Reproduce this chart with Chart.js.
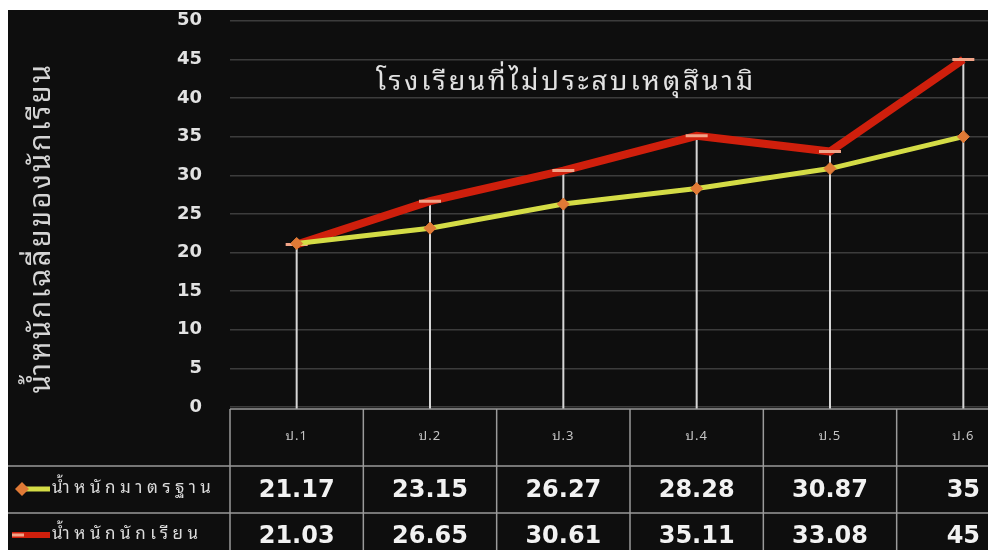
<!DOCTYPE html>
<html><head><meta charset="utf-8">
<script src="https://cdn.jsdelivr.net/npm/chart.js@4"></script>
<style>
html,body{margin:0;padding:0;background:#fff;overflow:hidden;width:988px;height:550px;}
#wrap{position:absolute;left:8px;top:10px;width:1030px;height:540px;background:#0e0e0e;}
</style></head><body>
<div id="wrap"><canvas id="c"></canvas></div>
<script>
const categories = ['ป.1','ป.2','ป.3','ป.4','ป.5','ป.6'];
const standardWeight = [21.17, 23.15, 26.27, 28.28, 30.87, 35];
const studentWeight = [21.03, 26.65, 30.61, 35.11, 33.08, 45];
const seriesNames = ['น้ำหนักมาตรฐาน', 'น้ำหนักนักเรียน'];
const chartTitle = 'โรงเรียนที่ไม่ประสบเหตุสึนามิ';
const yTitle = 'น้ำหนักเฉลี่ยของนักเรียน';
const yMin = 0, yMax = 50, yStep = 5;

const THAI = "'Noto Sans Thai Looped','Noto Serif Thai','Noto Sans Thai','Noto Sans','DejaVu Sans',sans-serif";
const NUM = "'DejaVu Sans','Liberation Sans',sans-serif";
const STD_COLOR = '#d4dc46', STD_MARK = '#e07a36';
const STU_COLOR = '#cf1f0c', STU_MARK = '#f2a488';

const extrasPlugin = {
  id: 'extras',
  beforeDatasetsDraw(chart) {
    const {ctx, chartArea: a, scales: {x, y}} = chart;
    ctx.save();
    ctx.strokeStyle = '#d6d6d6'; ctx.lineWidth = 2;
    categories.forEach((c, i) => {
      const px = x.getPixelForValue(i);
      const top = y.getPixelForValue(Math.max(standardWeight[i], studentWeight[i]));
      ctx.beginPath(); ctx.moveTo(px, top); ctx.lineTo(px, a.bottom + 2); ctx.stroke();
    });
    // in-plot title
    ctx.fillStyle = '#e2e2e2';
    ctx.font = '27px ' + THAI;
    ctx.letterSpacing = '3px';
    ctx.textAlign = 'center'; ctx.textBaseline = 'middle';
    ctx.fillText(chartTitle, a.left + (a.right - a.left) * 0.42, y.getPixelForValue(42));
    // y axis title
    ctx.save();
    ctx.translate(34, (a.top + a.bottom) / 2 + 14);
    ctx.rotate(-Math.PI / 2);
    ctx.font = '29px ' + THAI;
    ctx.letterSpacing = '2.4px';
    ctx.fillStyle = '#d4d4d4';
    ctx.fillText(yTitle, 0, 0);
    ctx.restore();
    ctx.restore();
  },
  afterDraw(chart) {
    const {ctx, chartArea: a, scales: {x}} = chart;
    const W = chart.width, H = chart.height;
    const half = (x.getPixelForValue(1) - x.getPixelForValue(0)) / 2;
    const top = a.bottom + 2, hdrB = top + 57, r1B = hdrB + 47, r2B = H + 20;
    ctx.save();
    ctx.strokeStyle = '#9a9a9a'; ctx.lineWidth = 1.5;
    const line = (x1, y1, x2, y2) => { ctx.beginPath(); ctx.moveTo(x1, y1); ctx.lineTo(x2, y2); ctx.stroke(); };
    line(a.left, top, W, top);
    line(0, hdrB, W, hdrB);
    line(0, r1B, W, r1B);
    categories.forEach((c, i) => {
      const px = x.getPixelForValue(i);
      line(px - half, top, px - half, r2B);
      if (i === categories.length - 1) line(px + half, top, px + half, r2B);
    });
    ctx.fillStyle = '#c4c4c4';
    ctx.font = '13px ' + THAI;
    ctx.letterSpacing = '1px';
    ctx.textAlign = 'center'; ctx.textBaseline = 'middle';
    categories.forEach((c, i) => ctx.fillText(c, x.getPixelForValue(i), top + 27));
    ctx.fillStyle = '#f2f2f2';
    ctx.font = 'bold 24px ' + NUM;
    ctx.letterSpacing = '0px';
    const rows = [standardWeight, studentWeight];
    const rowY = [hdrB + 25, r1B + 24];
    rows.forEach((vals, r) => vals.forEach((v, i) => ctx.fillText(String(v), x.getPixelForValue(i), rowY[r])));
    ctx.lineCap = 'butt';
    ctx.strokeStyle = STD_COLOR; ctx.lineWidth = 5; line(10, rowY[0] - 2, 42, rowY[0] - 2);
    ctx.fillStyle = STD_MARK;
    ctx.beginPath(); const cx = 14, cy = rowY[0] - 2;
    ctx.moveTo(cx, cy - 7); ctx.lineTo(cx + 7, cy); ctx.lineTo(cx, cy + 7); ctx.lineTo(cx - 7, cy); ctx.closePath(); ctx.fill();
    ctx.strokeStyle = STU_COLOR; ctx.lineWidth = 6; line(4, rowY[1] - 2, 42, rowY[1] - 2);
    ctx.strokeStyle = STU_MARK; ctx.lineWidth = 3; line(4, rowY[1] - 2, 16, rowY[1] - 2);
    ctx.fillStyle = '#dcdcdc';
    ctx.font = '17px ' + THAI;
    ctx.letterSpacing = '4.5px';
    ctx.textAlign = 'left';
    seriesNames.forEach((n, r) => ctx.fillText(n, 44, rowY[r] - 3));
    ctx.restore();
  }
};

new Chart(document.getElementById('c'), {
  type: 'line',
  data: {
    labels: categories,
    datasets: [
      { label: seriesNames[1], data: studentWeight, borderColor: STU_COLOR, borderWidth: 8,
        pointStyle: 'line', pointRadius: 11, pointHoverRadius: 11, pointBorderColor: STU_MARK, pointBorderWidth: 3,
        pointBackgroundColor: STU_MARK, tension: 0, order: 2 },
      { label: seriesNames[0], data: standardWeight, borderColor: STD_COLOR, borderWidth: 5,
        pointStyle: 'rectRot', pointRadius: 6, pointHoverRadius: 6, pointBorderColor: STD_MARK, pointBorderWidth: 1,
        pointBackgroundColor: STD_MARK, tension: 0, order: 1 }
    ]
  },
  options: {
    responsive: true, maintainAspectRatio: false, animation: false,
    layout: { autoPadding: false, padding: { left: 0, right: 8, top: 10, bottom: 143 } },
    plugins: { legend: { display: false }, tooltip: { enabled: false } },
    scales: {
      x: { display: false, offset: true },
      y: {
        min: yMin, max: yMax,
        ticks: { stepSize: yStep, color: '#e2e2e2', padding: 0, font: { family: NUM, size: 18, weight: 'bold' } },
        grid: { color: '#3c3c3c', lineWidth: 1.5, drawTicks: true, tickLength: 28, tickColor: 'rgba(0,0,0,0)' },
        border: { display: false },
        title: { display: false },
        afterFit(scale) { scale.width = 222; }
      }
    }
  },
  plugins: [extrasPlugin]
});
</script>
</body></html>
